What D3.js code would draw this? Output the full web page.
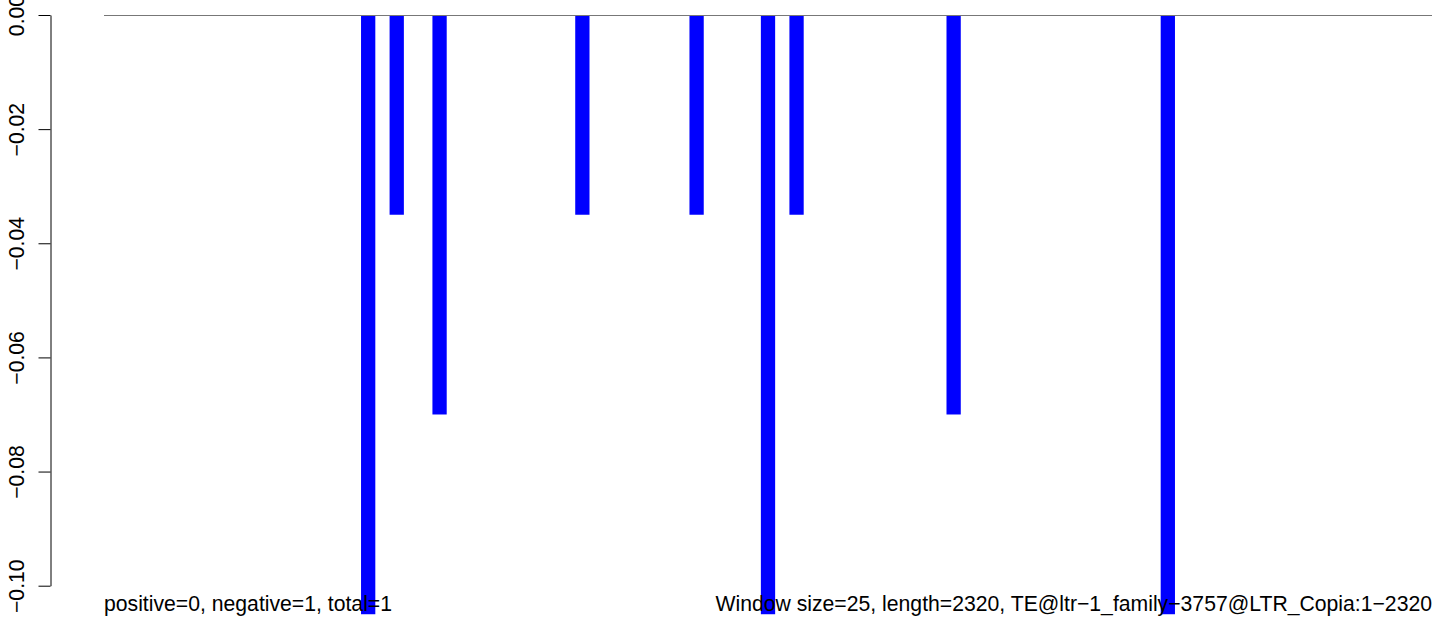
<!DOCTYPE html>
<html>
<head>
<meta charset="utf-8">
<script src="https://cdn.jsdelivr.net/npm/d3@7"></script>
<style>
  html, body { margin: 0; padding: 0; background: #fff; }
  svg { display: block; font-family: "Liberation Sans", Arial, Helvetica, sans-serif; }
</style>
</head>
<body>
<svg id="chart" width="1444" height="634"></svg>
<script>
// ---- data ----
const windowCount = 93;                       // number of windows (length 2320 / window 25)
const barWindows = [18, 20, 23, 33, 41, 46, 48, 59, 74];
const barValues  = [-0.105, -0.035, -0.07, -0.035, -0.035, -0.105, -0.035, -0.07, -0.105];
const yTickValues = [0, -0.02, -0.04, -0.06, -0.08, -0.10];
const yTickLabels = ["0.00", "\u22120.02", "\u22120.04", "\u22120.06", "\u22120.08", "\u22120.10"];
const leftNote  = "positive=0, negative=1, total=1";
const rightNote = "Window size=25, length=2320, TE@ltr\u22121_family\u22123757@LTR_Copia:1\u22122320";

// ---- layout ----
const FS = 21.2;
const svg = d3.select("#chart");
const x = d3.scaleLinear().domain([0, windowCount]).range([104, 1432]);
const y = d3.scaleLinear().domain([0, -0.1]).range([15, 585.7]);

// bars
svg.append("g").selectAll("rect")
  .data(barWindows.map((w, i) => ({ w, v: barValues[i] })))
  .join("rect")
  .attr("x", d => x(d.w))
  .attr("width", d => x(d.w + 1) - x(d.w))
  .attr("y", y(0))
  .attr("height", d => y(d.v) - y(0))
  .attr("fill", "#0000ff");

// zero line
svg.append("line")
  .attr("x1", x(0)).attr("x2", x(windowCount))
  .attr("y1", y(0) + 0.5).attr("y2", y(0) + 0.5)
  .attr("stroke", "#777").attr("stroke-width", 1);

// y axis
const axis = d3.axisLeft(y)
  .tickValues(yTickValues)
  .tickFormat((d, i) => yTickLabels[i])
  .tickSize(12)
  .tickSizeOuter(0);
const gAxis = svg.append("g")
  .attr("transform", "translate(50.5,0)")
  .call(axis);
gAxis.select(".domain").attr("stroke", "#000");
gAxis.selectAll(".tick line").attr("stroke", "#000");
gAxis.selectAll(".tick text")
  .attr("transform", "rotate(-90)")
  .attr("x", 0)
  .attr("y", -27)
  .attr("dy", 0)
  .attr("text-anchor", "middle")
  .attr("font-size", FS)
  .attr("font-family", "Liberation Sans, Arial, sans-serif")
  .attr("fill", "#000");

// notes
svg.append("text")
  .attr("x", x(0)).attr("y", 611)
  .attr("font-size", FS).attr("fill", "#000")
  .text(leftNote);
svg.append("text")
  .attr("x", x(windowCount)).attr("y", 611)
  .attr("text-anchor", "end")
  .attr("font-size", FS).attr("fill", "#000")
  .text(rightNote);
</script>
</body>
</html>
